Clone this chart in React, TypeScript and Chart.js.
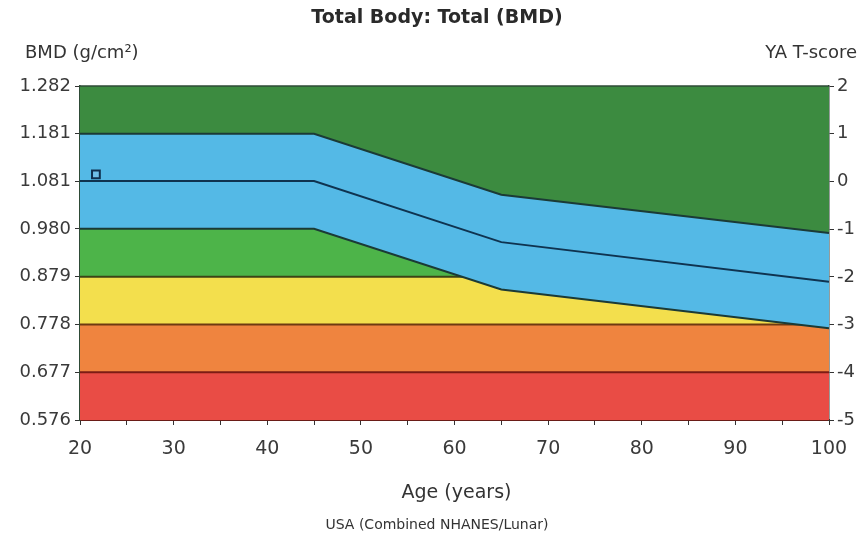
import React, { useEffect, useRef } from 'react';
import { Chart, registerables } from 'chart.js';

Chart.register(...registerables);

// ---- data ----
const ages = [20, 45, 65, 100];
const upperBMD = [1.181, 1.181, 1.052, 0.971];
const middleBMD = [1.081, 1.081, 0.952, 0.868];
const lowerBMD = [0.98, 0.98, 0.852, 0.77];

const ageRange = [20, 100];
const bandEdges = [0.576, 0.677, 0.778, 0.879, 0.98, 1.282];
const bandColors = ['#e94c45', '#ef843f', '#f3df4d', '#4db449'];
const edgeLineColors = ['#7d1c14', '#6e3a12', '#3c4416'];
const yTicks = [0.576, 0.677, 0.778, 0.879, 0.98, 1.081, 1.181, 1.282];
const tScoreRange = [-5, 2];
const patientAge = [21.7];
const patientBMD = [1.095];

const curve = (vals: number[]) => ages.map((a, i) => ({ x: a, y: vals[i] }));
const flat = (v: number) => ageRange.map((a) => ({ x: a, y: v }));

const FONT = '"DejaVu Sans", sans-serif';

const textPlugin = {
  id: 'texts',
  afterDatasetsDraw(chart: any) {
    const { ctx, chartArea } = chart;
    ctx.save();
    ctx.strokeStyle = '#2e4a36';
    ctx.lineWidth = 1.5;
    ctx.beginPath();
    ctx.moveTo(chartArea.left, chartArea.top);
    ctx.lineTo(chartArea.right, chartArea.top);
    ctx.stroke();
    ctx.restore();
  },
  afterDraw(chart: any) {
    const { ctx, chartArea } = chart;
    ctx.save();
    ctx.fillStyle = '#2a2a2a';
    ctx.textBaseline = 'middle';
    ctx.textAlign = 'center';
    ctx.font = `bold 19px ${FONT}`;
    ctx.fillText('Total Body: Total (BMD)', 437, 18);
    ctx.font = `18px ${FONT}`;
    ctx.fillStyle = '#333';
    ctx.textAlign = 'left';
    ctx.fillText('BMD (g/cm²)', 25, 53);
    ctx.textAlign = 'right';
    ctx.fillText('YA T-score', 857, 53);
    ctx.textAlign = 'center';
    ctx.font = `19px ${FONT}`;
    ctx.fillText('Age (years)', (chartArea.left + chartArea.right) / 2 + 2, 493);
    ctx.font = `14px ${FONT}`;
    ctx.fillText('USA (Combined NHANES/Lunar)', 437, 525);
    ctx.restore();
  },
};

export default function App() {
  const ref = useRef<HTMLCanvasElement | null>(null);
  useEffect(() => {
    if (!ref.current) return;
    const lineCol = '#1b3a36';
    const datasets: any[] = [
      // background bands 0..3
      ...bandColors.map((c, i) => ({
        data: flat(bandEdges[i + 1]),
        backgroundColor: c,
        borderWidth: 0,
        pointRadius: 0,
        fill: i === 0 ? 'start' : i - 1,
        order: 20 - i,
        yAxisID: 'y',
      })),
      // band edge lines 4..6
      ...edgeLineColors.map((c, i) => ({
        data: flat(bandEdges[i + 1]),
        borderColor: c,
        borderWidth: 2,
        pointRadius: 0,
        fill: false,
        order: 16 - i,
        yAxisID: 'y',
      })),
      // 7 dark green above upper
      {
        data: curve(upperBMD),
        backgroundColor: '#3c8b40',
        borderWidth: 0,
        pointRadius: 0,
        fill: 'end',
        order: 13,
        yAxisID: 'y',
      },
      // 8 blue band
      {
        data: curve(upperBMD),
        backgroundColor: '#54b9e6',
        borderWidth: 0,
        pointRadius: 0,
        fill: 10,
        order: 12,
        yAxisID: 'y',
      },
      // 9 upper line
      {
        data: curve(upperBMD),
        borderColor: lineCol,
        borderWidth: 2,
        pointRadius: 0,
        fill: false,
        order: 3,
        yAxisID: 'y',
      },
      // 10 lower line
      {
        data: curve(lowerBMD),
        borderColor: lineCol,
        borderWidth: 2,
        pointRadius: 0,
        fill: false,
        order: 2,
        yAxisID: 'y',
      },
      // 11 middle line
      {
        data: curve(middleBMD),
        borderColor: '#0f3350',
        borderWidth: 2,
        pointRadius: 0,
        fill: false,
        order: 1,
        yAxisID: 'y',
      },
      // 12 patient point
      {
        type: 'scatter',
        data: patientAge.map((a, i) => ({ x: a, y: patientBMD[i] })),
        pointStyle: 'rect',
        pointRadius: 5.5,
        backgroundColor: '#6fc0e8',
        borderColor: '#10304e',
        borderWidth: 2,
        order: 0,
        yAxisID: 'y',
      },
    ];

    const chart = new Chart(ref.current, {
      type: 'line',
      data: { datasets },
      plugins: [textPlugin],
      options: {
        animation: false,
        responsive: true,
        maintainAspectRatio: false,
        layout: { padding: { top: 86, left: 0, right: 0, bottom: 0 } },
        plugins: {
          legend: { display: false },
          tooltip: { enabled: false },
          title: { display: false },
        },
        scales: {
          x: {
            type: 'linear',
            min: ageRange[0],
            max: ageRange[1],
            afterFit: (s: any) => {
              s.height = 116;
            },
            ticks: {
              stepSize: 5,
              autoSkip: false,
              maxRotation: 0,
              padding: 13,
              color: '#3a3a3a',
              font: { family: FONT, size: 19 },
              callback: (v: any) => (Number(v) % 10 === 0 ? String(v) : ''),
            },
            grid: { drawOnChartArea: false, drawTicks: true, tickLength: 5, color: '#333' },
            border: { display: true, color: '#6a1c17', width: 2 },
          },
          y: {
            type: 'linear',
            position: 'left',
            min: bandEdges[0],
            max: bandEdges[bandEdges.length - 1],
            afterFit: (s: any) => {
              s.width = 80;
            },
            afterBuildTicks: (s: any) => {
              s.ticks = yTicks.map((v) => ({ value: v }));
            },
            ticks: {
              autoSkip: false,
              padding: 4,
              color: '#3a3a3a',
              font: { family: FONT, size: 18 },
              callback: (v: any) => Number(v).toFixed(3),
            },
            grid: { drawOnChartArea: false, drawTicks: true, tickLength: 5, color: '#333' },
            border: { display: true, color: '#2e4a36', width: 1.5 },
          },
          yR: {
            type: 'linear',
            position: 'right',
            min: tScoreRange[0],
            max: tScoreRange[1],
            afterFit: (s: any) => {
              s.width = 33;
            },
            ticks: {
              stepSize: 1,
              autoSkip: false,
              padding: 3,
              color: '#3a3a3a',
              font: { family: FONT, size: 18 },
            },
            grid: { drawOnChartArea: false, drawTicks: true, tickLength: 5, color: '#333' },
            border: { display: true, color: '#2e3a36', width: 1.5 },
          },
        },
      } as any,
    });
    return () => chart.destroy();
  }, []);

  return (
    <div style={{ position: 'absolute', left: 0, top: 0, width: 862, height: 536, background: '#fff' }}>
      <canvas ref={ref} />
    </div>
  );
}
